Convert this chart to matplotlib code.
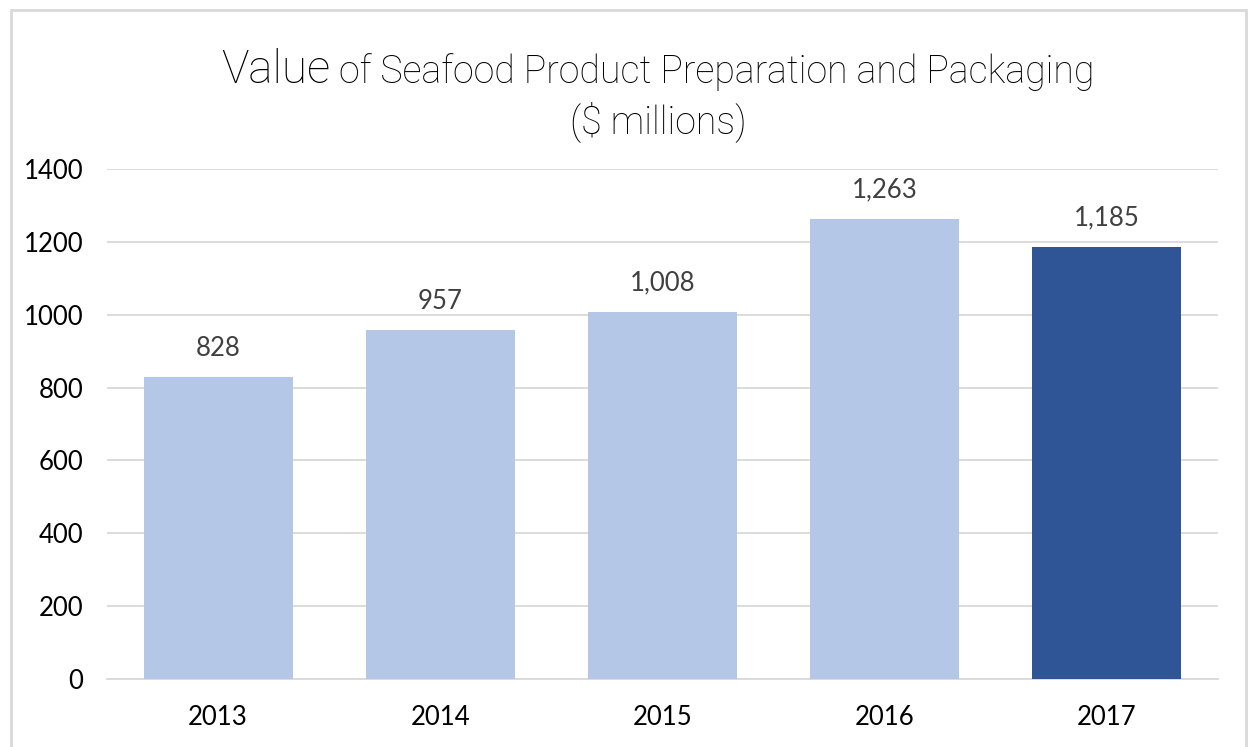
import matplotlib
matplotlib.use("Agg")
import matplotlib.pyplot as plt
from matplotlib.patches import Rectangle

years = ["2013", "2014", "2015", "2016", "2017"]
values = [828, 957, 1008, 1263, 1185]
labels = ["828", "957", "1,008", "1,263", "1,185"]
colors = ["#B4C7E7", "#B4C7E7", "#B4C7E7", "#B4C7E7", "#2F5597"]
yticks = [0, 200, 400, 600, 800, 1000, 1200, 1400]

W, H = 1248, 747
fig = plt.figure(figsize=(W / 100, H / 100), dpi=100)

# plot area in pixels
left, right, top, bottom = 107, 1218, 169, 679
ax = fig.add_axes([left / W, 1 - bottom / H, (right - left) / W, (bottom - top) / H])

x = range(len(years))
bars = ax.bar(x, values, width=0.67, color=colors, zorder=3)

for xi, v, lab in zip(x, values, labels):
    ax.annotate(lab, (xi, v), xytext=(0, 21), textcoords="offset points",
                ha="center", va="center", fontsize=18.5, color="#404040", family="Lato")

ax.set_xlim(-0.5, 4.5)
ax.set_ylim(0, 1400)
ax.set_yticks(yticks)
ax.set_yticklabels([str(t) for t in yticks])
ax.set_xticks(list(x))
ax.set_xticklabels(years)
ax.grid(axis="y", color="#D9D9D9", lw=1.3, zorder=0)
ax.tick_params(length=0, labelsize=18.5)
ax.tick_params(axis="y", pad=17)
ax.tick_params(axis="x", pad=19)
for lab in ax.get_xticklabels() + ax.get_yticklabels():
    lab.set_family("Lato")
for s in ["top", "right", "left"]:
    ax.spines[s].set_visible(False)
ax.spines["bottom"].set_color("#D9D9D9")
ax.spines["bottom"].set_linewidth(1.3)

# outer chart border
fig.patches.append(Rectangle((10.5 / W, -0.05), (1246 - 10.5) / W, 1.05 - 10 / H,
                             transform=fig.transFigure, fill=False,
                             edgecolor="#D9D9D9", lw=2))

# title with a bigger first word
fig.canvas.draw()
r = fig.canvas.get_renderer()
t1 = fig.text(0, 1 - 83 / H, "Value", fontsize=33, family="Roboto",
              fontweight="light", va="baseline", ha="left")
t2 = fig.text(0, 1 - 83 / H, " of Seafood Product Preparation and Packaging",
              fontsize=27, family="Roboto", fontweight="light", va="baseline", ha="left")
w1 = t1.get_window_extent(r).width
w2 = t2.get_window_extent(r).width
x0 = 658 - (w1 + w2) / 2
t1.set_x(x0 / W)
t2.set_x((x0 + w1) / W)
fig.text(658 / W, 1 - 133 / H, "($ millions)", fontsize=27, family="Roboto",
         fontweight="light", va="baseline", ha="center")

fig.savefig("out.png", dpi=100)
